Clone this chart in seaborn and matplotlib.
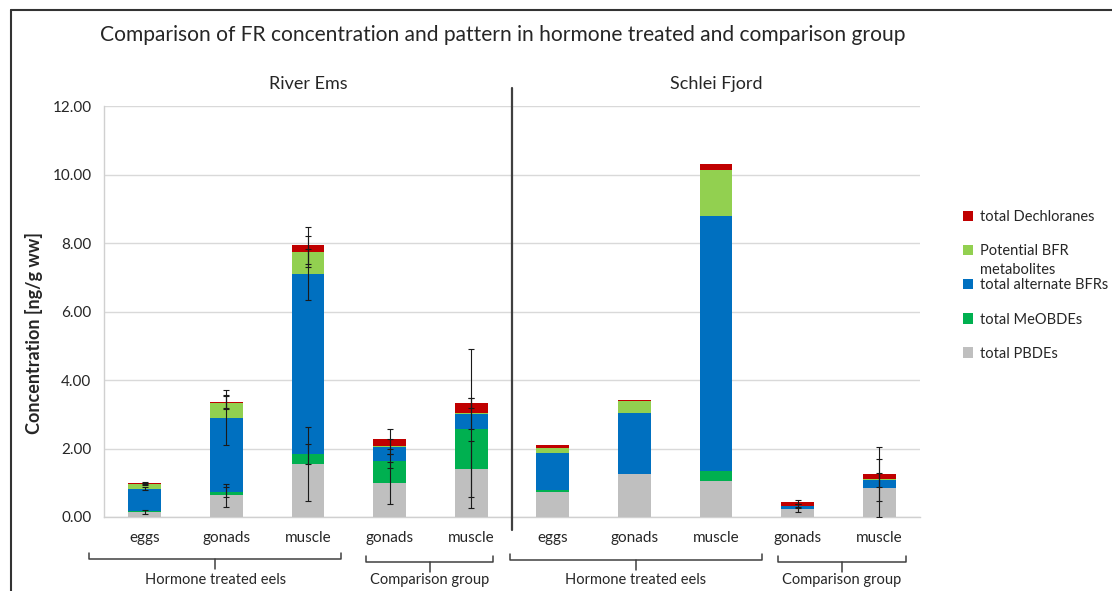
import numpy as np
import pandas as pd
import matplotlib
matplotlib.use("Agg")
import matplotlib.pyplot as plt
import matplotlib.transforms as mtransforms
from matplotlib.lines import Line2D
from matplotlib.patches import Patch
import seaborn as sns

# ---------------- data ----------------
samples = ["Ems HT eggs", "Ems HT gonads", "Ems HT muscle", "Ems CG gonads", "Ems CG muscle",
           "Schlei HT eggs", "Schlei HT gonads", "Schlei HT muscle", "Schlei CG gonads", "Schlei CG muscle"]
tissues = ["eggs", "gonads", "muscle", "gonads", "muscle",
           "eggs", "gonads", "muscle", "gonads", "muscle"]
components = ["total PBDEs", "total MeOBDEs", "total alternate BFRs",
              "Potential BFR metabolites", "total Dechloranes"]
colors = ["#BFBFBF", "#00B050", "#0070C0", "#92D050", "#C00000"]

pbde  = [0.15, 0.63, 1.54, 0.99, 1.39, 0.73, 1.27, 1.05, 0.22, 0.84]
meo   = [0.02, 0.10, 0.31, 0.64, 1.19, 0.07, 0.00, 0.28, 0.00, 0.00]
bfr   = [0.66, 2.17, 5.24, 0.42, 0.44, 1.07, 1.77, 7.46, 0.10, 0.24]
metab = [0.14, 0.43, 0.66, 0.02, 0.02, 0.15, 0.35, 1.34, 0.01, 0.03]
dechl = [0.02, 0.04, 0.18, 0.21, 0.29, 0.07, 0.02, 0.17, 0.11, 0.14]

err_pbde  = [0.05, 0.33, 1.08, 0.61, 0.82, 0, 0, 0, 0.08, 0.84]
err_meo   = [0, 0.15, 0.29, 0.20, 2.32, 0, 0, 0, 0, 0]
err_bfr   = [0.05, 0.81, 0.74, 0.22, 0.44, 0, 0, 0, 0.05, 0.20]
err_metab = [0.03, 0.19, 0.45, 0, 0, 0, 0, 0, 0, 0]
err_dechl = [0.02, 0.20, 0.55, 0.30, 0.15, 0, 0, 0, 0.06, 0.78]

regions = ["River Ems", "Schlei Fjord"]
group_labels = ["Hormone treated eels", "Comparison group",
                "Hormone treated eels", "Comparison group"]

values = [pbde, meo, bfr, metab, dechl]
errors = [err_pbde, err_meo, err_bfr, err_metab, err_dechl]

# ---------------- build frame ----------------
rows = []
cum = np.zeros(len(samples))
cums = []
for comp, vals in zip(components, values):
    cum = cum + np.array(vals)
    cums.append(cum.copy())
    for s, c in zip(samples, cum):
        rows.append({"sample": s, "component": comp, "cum": c})
df = pd.DataFrame(rows)

# ---------------- style ----------------
sns.set_style("white")
plt.rcParams["font.family"] = ["Lato", "DejaVu Sans"]
text_col = "#262626"

fig = plt.figure(figsize=(11.12, 5.91), dpi=100)
ax = fig.add_axes([104 / 1112, 1 - 517 / 591, (920 - 104) / 1112, (517 - 106) / 591])

for comp, col in reversed(list(zip(components, colors))):
    sns.barplot(data=df[df["component"] == comp], x="sample", y="cum", order=samples,
                color=col, saturation=1, width=0.4, errorbar=None, linewidth=0, ax=ax, zorder=3)

pos = np.arange(len(samples))
for cumv, errv in zip(cums, errors):
    errv = np.array(errv, dtype=float)
    m = errv > 0
    ax.errorbar(pos[m], cumv[m], yerr=errv[m], fmt="none", ecolor="#1a1a1a",
                elinewidth=0.8, capsize=2.5, capthick=0.8, zorder=5)

ax.set_ylim(0, 12)
ax.set_xlim(-0.5, len(samples) - 0.5)
ax.set_yticks(np.arange(0, 12.01, 2))
ax.set_yticklabels([f"{v:.2f}" for v in np.arange(0, 12.01, 2)])
ax.set_xticks(pos)
ax.set_xticklabels(tissues)
ax.set_xticks(np.arange(-0.5, len(samples), 1), minor=True)
ax.tick_params(axis="x", which="major", length=0, pad=10, labelsize=11, labelcolor=text_col)
ax.tick_params(axis="x", which="minor", length=5, color="#BFBFBF", width=1)
ax.tick_params(axis="y", length=4, color="#BFBFBF", labelsize=11, labelcolor=text_col, pad=5)
ax.yaxis.grid(True, color="#D9D9D9", lw=1)
ax.set_axisbelow(True)
ax.set_xlabel("")
ax.set_ylabel("")
for sp in ["top", "right"]:
    ax.spines[sp].set_visible(False)
for sp in ["left", "bottom"]:
    ax.spines[sp].set_color("#D0D0D0")
    ax.spines[sp].set_linewidth(1)

trans = mtransforms.blended_transform_factory(ax.transData, ax.transAxes)
# divider
ax.plot([4.5, 4.5], [-0.032, 1.044], transform=trans, color="#404040", lw=1.6, clip_on=False, zorder=6)

# region labels
for xc, r in zip([2, 7], regions):
    ax.text(xc, 1.054, r, transform=trans, ha="center", va="center", fontsize=13, color=text_col)

# group brackets
bracket_spans = [(-0.68, 2.41), (2.71, 4.27), (4.47, 7.56), (7.76, 9.33)]
ypx = lambda p: (517 - p) / 411.0
for (l, r), lab, yline in zip(bracket_spans, group_labels, [559, 562, 560, 561.5]):
    yl = ypx(yline)
    yh = ypx(yline - 6)
    ys = ypx(yline + 10)
    mid = (l + r) / 2
    ax.plot([l, l, r, r], [yh, yl, yl, yh], transform=trans, color="#404040", lw=1.1,
            clip_on=False, solid_joinstyle="round")
    ax.plot([mid, mid], [yl, ys], transform=trans, color="#404040", lw=1.1, clip_on=False)
    ax.text(mid, ypx(580), lab, transform=trans, ha="center", va="center", fontsize=10.5, color=text_col)

# title and y label
fig.text(503 / 1112, 1 - 35 / 591,
         "Comparison of FR concentration and pattern in hormone treated and comparison group",
         ha="center", va="center", fontsize=15.1, color=text_col)
fig.text(34 / 1112, 1 - 333 / 591, "Concentration [ng/g ww]", rotation=90,
         ha="center", va="center", fontsize=13, fontweight="bold", color=text_col)

# legend (second line of the metabolites label is set beneath its first line)
legend_labels = ["total PBDEs", "total MeOBDEs", "total alternate BFRs",
                 "Potential BFR", "total Dechloranes"]
handles = [Patch(facecolor=c, edgecolor="none", label=l) for c, l in zip(colors, legend_labels)][::-1]
leg = fig.legend(handles=handles, loc="upper left", bbox_to_anchor=(950 / 1112, 1 - 197 / 591),
                 frameon=False, fontsize=10.5, handlelength=0.7, handleheight=0.7,
                 handletextpad=0.45, labelspacing=1.38, labelcolor=text_col)
fig.canvas.draw()
metab_txt = leg.get_texts()[1]
bb = metab_txt.get_window_extent()
fig.text(bb.x0 / fig.bbox.width, (bb.y0 - 5) / fig.bbox.height, "metabolites",
         fontsize=10.5, color=text_col, ha="left", va="top")

# outer frame
fig.add_artist(Line2D([11 / 1112, 1.0], [1 - 10 / 591] * 2, color="#333333", lw=1.5))
fig.add_artist(Line2D([11 / 1112] * 2, [0, 1 - 10 / 591], color="#333333", lw=1.5))

fig.savefig("out.png", dpi=100)
